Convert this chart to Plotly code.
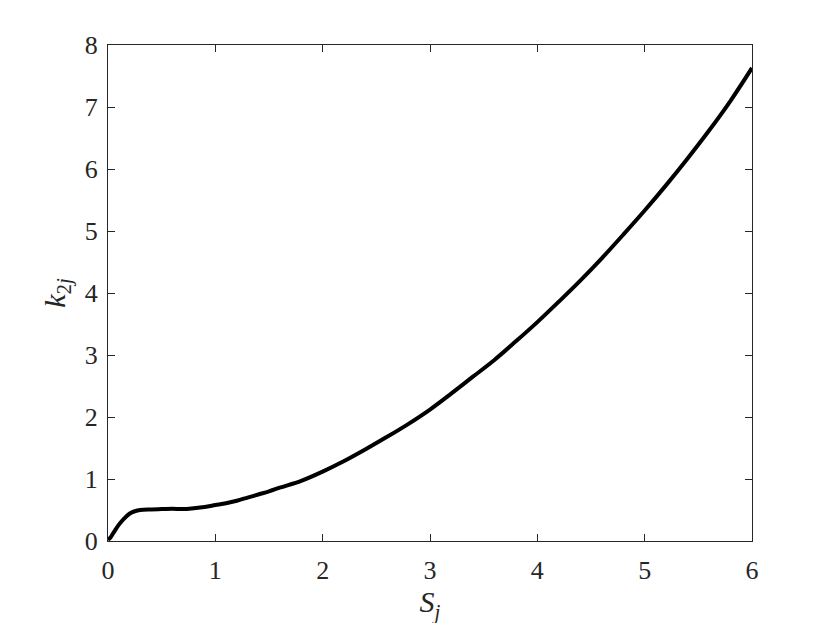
import plotly.graph_objects as go

S_j = [0, 0.02, 0.05, 0.1, 0.15, 0.2, 0.25, 0.3, 0.4, 0.5, 0.6, 0.7, 0.8, 0.9,
       1.0, 1.1, 1.2, 1.3, 1.4, 1.5, 1.6, 1.8, 2.0, 2.2, 2.4, 2.6, 2.8, 3.0,
       3.2, 3.4, 3.6, 3.8, 4.0, 4.2, 4.4, 4.6, 4.8, 5.0, 5.2, 5.4, 5.6, 5.8, 6.0]
k_2j = [0.02, 0.05, 0.13, 0.26, 0.36, 0.44, 0.48, 0.50, 0.51, 0.515, 0.52, 0.515,
        0.53, 0.55, 0.58, 0.61, 0.65, 0.70, 0.75, 0.80, 0.86, 0.97, 1.12, 1.29,
        1.48, 1.68, 1.89, 2.12, 2.38, 2.65, 2.92, 3.22, 3.53, 3.86, 4.20, 4.56,
        4.94, 5.33, 5.74, 6.17, 6.62, 7.10, 7.63]

x_ticks = [0, 1, 2, 3, 4, 5, 6]
y_ticks = [0, 1, 2, 3, 4, 5, 6, 7, 8]

FONT = "serif"
AX = "#262626"

fig = go.Figure(go.Scatter(x=S_j, y=k_2j, mode="lines",
                           line=dict(color="black", width=4, shape="spline"),
                           showlegend=False))

axis_common = dict(showline=True, linecolor=AX, linewidth=1, mirror="ticks",
                   ticks="inside", ticklen=7, tickcolor=AX, tickwidth=1,
                   showgrid=False, zeroline=False,
                   tickfont=dict(family=FONT, size=26, color=AX))

fig.update_layout(
    width=830, height=623,
    margin=dict(l=100, r=86, t=37, b=90),
    paper_bgcolor="white", plot_bgcolor="white",
    font=dict(family=FONT, size=26, color=AX),
    xaxis=dict(range=[0, 6], tickvals=x_ticks, ticktext=[str(v) for v in x_ticks],
               ticklabelstandoff=6,
               title=dict(text="<i>S</i><sub><i>j</i></sub>",
                          font=dict(family=FONT, size=30, color=AX), standoff=2),
               **axis_common),
    yaxis=dict(range=[0, 8], tickvals=y_ticks, ticktext=[str(v) for v in y_ticks],
               ticklabelstandoff=4,
               title=dict(text="<i>k</i><sub>2<i>j</i></sub>",
                          font=dict(family=FONT, size=30, color=AX), standoff=10),
               **axis_common),
)

fig.write_html("out.html")
